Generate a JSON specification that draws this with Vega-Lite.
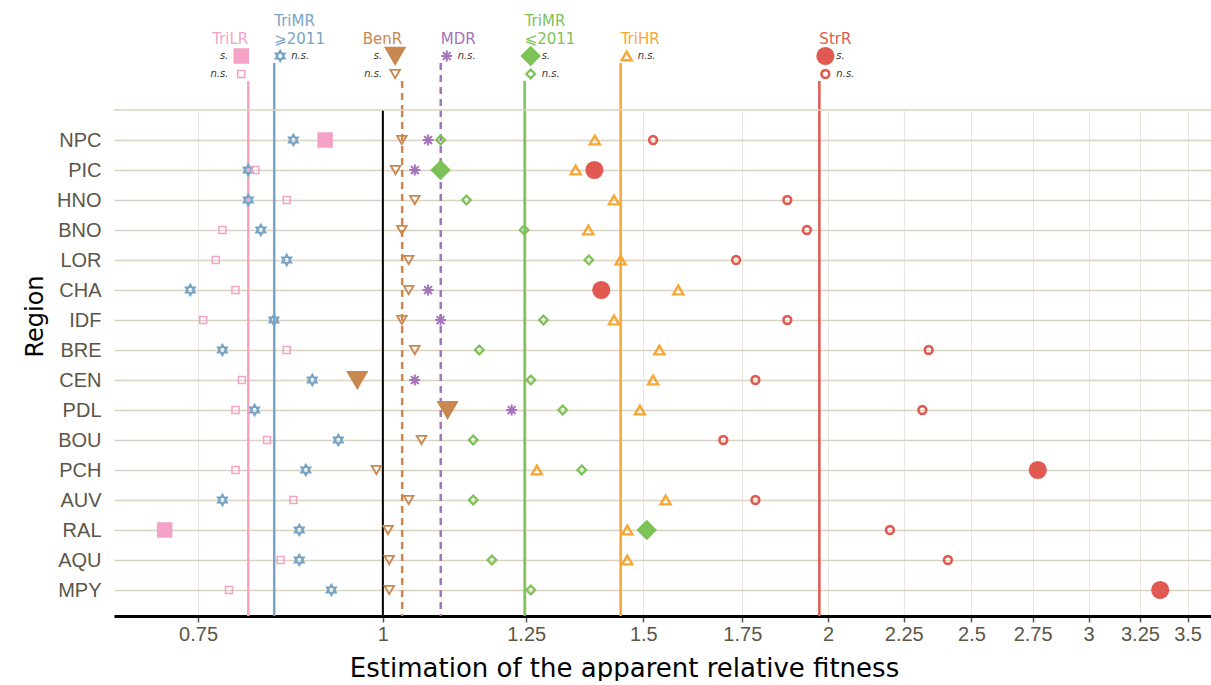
{
  "$schema": "https://vega.github.io/schema/vega-lite/v6.json",
  "width": 1097,
  "height": 506,
  "padding": {"left": 23, "top": 14, "right": 1, "bottom": 0},
  "background": "#ffffff",
  "config": {"view": {"stroke": null}, "font": "DejaVu Sans"},
  "datasets": {
    "lines": [
      {"series": "TriLR", "value": 0.811},
      {"series": "TriMR ⩾2011", "value": 0.8444},
      {"series": "BenR", "value": 1.0305},
      {"series": "MDR", "value": 1.0943},
      {"series": "TriMR ⩽2011", "value": 1.247},
      {"series": "TriHR", "value": 1.448},
      {"series": "StrR", "value": 1.973}
    ],
    "legend": [
      {"series": "TriLR", "value": 0.811, "sig": "s.", "level": "s"},
      {"series": "TriLR", "value": 0.811, "sig": "n.s.", "level": "ns"},
      {"series": "TriMR ⩾2011", "value": 0.8444, "sig": "n.s.", "level": "s"},
      {"series": "BenR", "value": 1.0305, "sig": "s.", "level": "s"},
      {"series": "BenR", "value": 1.0305, "sig": "n.s.", "level": "ns"},
      {"series": "MDR", "value": 1.0943, "sig": "n.s.", "level": "s"},
      {"series": "TriMR ⩽2011", "value": 1.247, "sig": "s.", "level": "s"},
      {"series": "TriMR ⩽2011", "value": 1.247, "sig": "n.s.", "level": "ns"},
      {"series": "TriHR", "value": 1.448, "sig": "n.s.", "level": "s"},
      {"series": "StrR", "value": 1.973, "sig": "s.", "level": "s"},
      {"series": "StrR", "value": 1.973, "sig": "n.s.", "level": "ns"}
    ],
    "points": [
      {"region": "NPC", "series": "TriMR ⩾2011", "value": 0.870, "sig": "n.s."},
      {"region": "NPC", "series": "TriLR", "value": 0.914, "sig": "s."},
      {"region": "NPC", "series": "BenR", "value": 1.030, "sig": "n.s."},
      {"region": "NPC", "series": "MDR", "value": 1.073, "sig": "n.s."},
      {"region": "NPC", "series": "TriMR ⩽2011", "value": 1.094, "sig": "n.s."},
      {"region": "NPC", "series": "TriHR", "value": 1.391, "sig": "n.s."},
      {"region": "NPC", "series": "StrR", "value": 1.523, "sig": "n.s."},
      {"region": "PIC", "series": "TriMR ⩾2011", "value": 0.811, "sig": "n.s."},
      {"region": "PIC", "series": "TriLR", "value": 0.820, "sig": "n.s."},
      {"region": "PIC", "series": "BenR", "value": 1.020, "sig": "n.s."},
      {"region": "PIC", "series": "MDR", "value": 1.051, "sig": "n.s."},
      {"region": "PIC", "series": "TriMR ⩽2011", "value": 1.094, "sig": "s."},
      {"region": "PIC", "series": "TriHR", "value": 1.350, "sig": "n.s."},
      {"region": "PIC", "series": "StrR", "value": 1.390, "sig": "s."},
      {"region": "HNO", "series": "TriMR ⩾2011", "value": 0.811, "sig": "n.s."},
      {"region": "HNO", "series": "TriLR", "value": 0.861, "sig": "n.s."},
      {"region": "HNO", "series": "BenR", "value": 1.051, "sig": "n.s."},
      {"region": "HNO", "series": "TriMR ⩽2011", "value": 1.139, "sig": "n.s."},
      {"region": "HNO", "series": "TriHR", "value": 1.433, "sig": "n.s."},
      {"region": "HNO", "series": "StrR", "value": 1.877, "sig": "n.s."},
      {"region": "BNO", "series": "TriLR", "value": 0.779, "sig": "n.s."},
      {"region": "BNO", "series": "TriMR ⩾2011", "value": 0.827, "sig": "n.s."},
      {"region": "BNO", "series": "BenR", "value": 1.030, "sig": "n.s."},
      {"region": "BNO", "series": "TriMR ⩽2011", "value": 1.246, "sig": "n.s."},
      {"region": "BNO", "series": "TriHR", "value": 1.377, "sig": "n.s."},
      {"region": "BNO", "series": "StrR", "value": 1.935, "sig": "n.s."},
      {"region": "LOR", "series": "TriLR", "value": 0.771, "sig": "n.s."},
      {"region": "LOR", "series": "TriMR ⩾2011", "value": 0.861, "sig": "n.s."},
      {"region": "LOR", "series": "BenR", "value": 1.041, "sig": "n.s."},
      {"region": "LOR", "series": "TriMR ⩽2011", "value": 1.378, "sig": "n.s."},
      {"region": "LOR", "series": "TriHR", "value": 1.448, "sig": "n.s."},
      {"region": "LOR", "series": "StrR", "value": 1.733, "sig": "n.s."},
      {"region": "CHA", "series": "TriMR ⩾2011", "value": 0.741, "sig": "n.s."},
      {"region": "CHA", "series": "TriLR", "value": 0.795, "sig": "n.s."},
      {"region": "CHA", "series": "BenR", "value": 1.041, "sig": "n.s."},
      {"region": "CHA", "series": "MDR", "value": 1.073, "sig": "n.s."},
      {"region": "CHA", "series": "StrR", "value": 1.405, "sig": "s."},
      {"region": "CHA", "series": "TriHR", "value": 1.584, "sig": "n.s."},
      {"region": "IDF", "series": "TriLR", "value": 0.756, "sig": "n.s."},
      {"region": "IDF", "series": "TriMR ⩾2011", "value": 0.844, "sig": "n.s."},
      {"region": "IDF", "series": "BenR", "value": 1.030, "sig": "n.s."},
      {"region": "IDF", "series": "MDR", "value": 1.094, "sig": "n.s."},
      {"region": "IDF", "series": "TriMR ⩽2011", "value": 1.284, "sig": "n.s."},
      {"region": "IDF", "series": "TriHR", "value": 1.433, "sig": "n.s."},
      {"region": "IDF", "series": "StrR", "value": 1.877, "sig": "n.s."},
      {"region": "BRE", "series": "TriMR ⩾2011", "value": 0.779, "sig": "n.s."},
      {"region": "BRE", "series": "TriLR", "value": 0.861, "sig": "n.s."},
      {"region": "BRE", "series": "BenR", "value": 1.051, "sig": "n.s."},
      {"region": "BRE", "series": "TriMR ⩽2011", "value": 1.162, "sig": "n.s."},
      {"region": "BRE", "series": "TriHR", "value": 1.538, "sig": "n.s."},
      {"region": "BRE", "series": "StrR", "value": 2.339, "sig": "n.s."},
      {"region": "CEN", "series": "TriLR", "value": 0.803, "sig": "n.s."},
      {"region": "CEN", "series": "TriMR ⩾2011", "value": 0.896, "sig": "n.s."},
      {"region": "CEN", "series": "BenR", "value": 0.961, "sig": "s."},
      {"region": "CEN", "series": "MDR", "value": 1.051, "sig": "n.s."},
      {"region": "CEN", "series": "TriMR ⩽2011", "value": 1.259, "sig": "n.s."},
      {"region": "CEN", "series": "TriHR", "value": 1.523, "sig": "n.s."},
      {"region": "CEN", "series": "StrR", "value": 1.786, "sig": "n.s."},
      {"region": "PDL", "series": "TriLR", "value": 0.795, "sig": "n.s."},
      {"region": "PDL", "series": "TriMR ⩾2011", "value": 0.819, "sig": "n.s."},
      {"region": "PDL", "series": "BenR", "value": 1.106, "sig": "s."},
      {"region": "PDL", "series": "MDR", "value": 1.222, "sig": "n.s."},
      {"region": "PDL", "series": "TriMR ⩽2011", "value": 1.323, "sig": "n.s."},
      {"region": "PDL", "series": "TriHR", "value": 1.492, "sig": "n.s."},
      {"region": "PDL", "series": "StrR", "value": 2.316, "sig": "n.s."},
      {"region": "BOU", "series": "TriLR", "value": 0.835, "sig": "n.s."},
      {"region": "BOU", "series": "TriMR ⩾2011", "value": 0.933, "sig": "n.s."},
      {"region": "BOU", "series": "BenR", "value": 1.062, "sig": "n.s."},
      {"region": "BOU", "series": "TriMR ⩽2011", "value": 1.151, "sig": "n.s."},
      {"region": "BOU", "series": "StrR", "value": 1.699, "sig": "n.s."},
      {"region": "PCH", "series": "TriLR", "value": 0.795, "sig": "n.s."},
      {"region": "PCH", "series": "TriMR ⩾2011", "value": 0.887, "sig": "n.s."},
      {"region": "PCH", "series": "BenR", "value": 0.990, "sig": "n.s."},
      {"region": "PCH", "series": "TriHR", "value": 1.271, "sig": "n.s."},
      {"region": "PCH", "series": "TriMR ⩽2011", "value": 1.363, "sig": "n.s."},
      {"region": "PCH", "series": "StrR", "value": 2.772, "sig": "s."},
      {"region": "AUV", "series": "TriMR ⩾2011", "value": 0.779, "sig": "n.s."},
      {"region": "AUV", "series": "TriLR", "value": 0.870, "sig": "n.s."},
      {"region": "AUV", "series": "BenR", "value": 1.041, "sig": "n.s."},
      {"region": "AUV", "series": "TriMR ⩽2011", "value": 1.151, "sig": "n.s."},
      {"region": "AUV", "series": "TriHR", "value": 1.553, "sig": "n.s."},
      {"region": "AUV", "series": "StrR", "value": 1.786, "sig": "n.s."},
      {"region": "RAL", "series": "TriLR", "value": 0.712, "sig": "s."},
      {"region": "RAL", "series": "TriMR ⩾2011", "value": 0.878, "sig": "n.s."},
      {"region": "RAL", "series": "BenR", "value": 1.008, "sig": "n.s."},
      {"region": "RAL", "series": "TriHR", "value": 1.463, "sig": "n.s."},
      {"region": "RAL", "series": "TriMR ⩽2011", "value": 1.508, "sig": "s."},
      {"region": "RAL", "series": "StrR", "value": 2.202, "sig": "n.s."},
      {"region": "AQU", "series": "TriLR", "value": 0.853, "sig": "n.s."},
      {"region": "AQU", "series": "TriMR ⩾2011", "value": 0.878, "sig": "n.s."},
      {"region": "AQU", "series": "BenR", "value": 1.010, "sig": "n.s."},
      {"region": "AQU", "series": "TriMR ⩽2011", "value": 1.185, "sig": "n.s."},
      {"region": "AQU", "series": "TriHR", "value": 1.463, "sig": "n.s."},
      {"region": "AQU", "series": "StrR", "value": 2.410, "sig": "n.s."},
      {"region": "MPY", "series": "TriLR", "value": 0.787, "sig": "n.s."},
      {"region": "MPY", "series": "TriMR ⩾2011", "value": 0.923, "sig": "n.s."},
      {"region": "MPY", "series": "BenR", "value": 1.010, "sig": "n.s."},
      {"region": "MPY", "series": "TriMR ⩽2011", "value": 1.259, "sig": "n.s."},
      {"region": "MPY", "series": "StrR", "value": 3.354, "sig": "s."}
    ]
  },
  "resolve": {"scale": {"y": "independent"}},
  "layer": [
    {
      "layer": [
        {
          "data": {"name": "points"},
          "mark": {"type": "point", "filled": false, "opacity": 0},
          "encoding": {
            "x": {
              "field": "value", "type": "quantitative",
              "scale": {"type": "log", "domain": [0.658, 3.63], "nice": false},
              "axis": {
                "title": "Estimation of the apparent relative fitness",
                "values": [0.75, 1, 1.25, 1.5, 1.75, 2, 2.25, 2.5, 2.75, 3, 3.25, 3.5],
                "format": "~g",
                "grid": true, "gridColor": "#ebe7dc", "gridWidth": 1,
                "domainColor": "#000000", "domainWidth": 3,
                "tickColor": "#555555", "tickSize": 6, "tickWidth": 1.5,
                "labelFont": "Liberation Sans", "labelFontSize": 20, "labelColor": "#5b5648", "labelPadding": 2,
                "labelFlush": false, "labelOverlap": false,
                "titleFont": "DejaVu Sans", "titleFontSize": 26, "titleFontWeight": "normal", "titleColor": "#000000", "titlePadding": 11, "titleX": 510
              }
            },
            "y": {
              "field": "region", "type": "nominal",
              "scale": {"type": "point", "domain": ["NPC", "PIC", "HNO", "BNO", "LOR", "CHA", "IDF", "BRE", "CEN", "PDL", "BOU", "PCH", "AUV", "RAL", "AQU", "MPY"], "padding": 0.9333, "align": 0.536},
              "axis": {
                "orient": "left",
                "title": "Region", "ticks": false, "domain": false, "labelPadding": 13,
                "labelFont": "Liberation Sans", "labelFontSize": 20, "labelColor": "#5b5648",
                "grid": true, "gridColor": "#d8d2c2", "gridWidth": 1.5,
                "titleFont": "DejaVu Sans", "titleFontSize": 24, "titleFontWeight": "normal", "titleColor": "#000000", "titlePadding": 9, "titleY": 206
              }
            }
          }
        },
        {
          "data": {"name": "lines"},
          "mark": {"type": "rule", "strokeWidth": 2.5},
          "encoding": {
            "x": {"field": "value", "type": "quantitative"},
            "color": {"field": "series", "type": "nominal", "legend": null, "scale": {"domain": ["TriLR", "TriMR ⩾2011", "BenR", "MDR", "TriMR ⩽2011", "TriHR", "StrR"], "range": ["#f4a3c6", "#78a5c5", "#c9884f", "#a574b9", "#7cc257", "#f7a733", "#e15a52"]}},
            "strokeDash": {"field": "series", "type": "nominal", "legend": null, "scale": {"domain": ["TriLR", "TriMR ⩾2011", "BenR", "MDR", "TriMR ⩽2011", "TriHR", "StrR"], "range": [[1, 0], [1, 0], [7, 5], [7, 5], [1, 0], [1, 0], [1, 0]]}}
          }
        },
        {
          "data": {"name": "lines"},
          "transform": [{"filter": "datum.series === 'TriLR'"}],
          "mark": {"type": "rule", "color": "#000000", "strokeWidth": 2},
          "encoding": {
            "x": {"datum": 1, "type": "quantitative"}
          }
        },
        {
          "data": {"name": "points"},
          "mark": {"type": "point", "filled": false, "opacity": 1},
          "encoding": {
            "x": {"field": "value", "type": "quantitative"},
            "y": {"field": "region", "type": "nominal"},
            "color": {"field": "series", "type": "nominal", "legend": null},
            "fill": {"condition": {"test": "datum.sig === 's.'", "field": "series", "type": "nominal", "legend": null, "scale": {"domain": ["TriLR", "TriMR ⩾2011", "BenR", "MDR", "TriMR ⩽2011", "TriHR", "StrR"], "range": ["#f4a3c6", "#78a5c5", "#c9884f", "#a574b9", "#7cc257", "#f7a733", "#e15a52"]}}, "value": "transparent"},
            "shape": {"field": "series", "type": "nominal", "legend": null, "scale": {"domain": ["TriLR", "TriMR ⩾2011", "BenR", "MDR", "TriMR ⩽2011", "TriHR", "StrR"], "range": [
              "M-0.7,-0.7L0.7,-0.7L0.7,0.7L-0.7,0.7Z",
              "M0,-1.1L0.953,0.55L-0.953,0.55ZM0,1.1L-0.953,-0.55L0.953,-0.55Z",
              "M-0.95,-0.82L0.95,-0.82L0,0.82Z",
              "M-1.1,0L1.1,0M0,-1.1L0,1.1M-0.78,-0.78L0.78,0.78M-0.78,0.78L0.78,-0.78",
              "M-0.87,0L0,-0.87L0.87,0L0,0.87Z",
              "M0,-0.866L1,0.866L-1,0.866Z",
              "M-0.78,0A0.78,0.78,0,1,0,0.78,0A0.78,0.78,0,1,0,-0.78,0Z"
            ]}},
            "size": {"field": "sig", "type": "nominal", "legend": null, "scale": {"domain": ["s.", "n.s."], "range": [400, 100]}},
            "strokeWidth": {"field": "series", "type": "nominal", "legend": null, "scale": {"domain": ["TriLR", "TriMR ⩾2011", "BenR", "MDR", "TriMR ⩽2011", "TriHR", "StrR"], "range": [1.5, 2.6, 1.5, 1.6, 1.5, 1.8, 1.5]}}
          }
        }
      ]
    },
    {
      "layer": [
        {
          "data": {"name": "legend"},
          "transform": [{"filter": "datum.sig === 'n.s.'"}],
          "mark": {"type": "rule", "strokeWidth": 2.5, "yOffset": 7},
          "encoding": {
            "x": {"field": "value", "type": "quantitative"},
            "y": {"field": "level", "type": "nominal", "axis": null, "scale": {"type": "point", "domain": ["title", "s", "ns", "a", "bottom"], "range": [-72, 0], "padding": 0}},
            "y2": {"datum": "bottom"},
            "color": {"field": "series", "type": "nominal", "legend": null},
            "strokeDash": {"field": "series", "type": "nominal", "legend": null}
          }
        },
        {
          "data": {"name": "legend"},
          "transform": [{"filter": {"field": "series", "oneOf": ["TriLR", "BenR"]}}],
          "mark": {"type": "point", "filled": false, "opacity": 1, "xOffset": -7},
          "encoding": {
            "x": {"field": "value", "type": "quantitative"},
            "y": {"field": "level", "type": "nominal", "axis": null},
            "color": {"field": "series", "type": "nominal", "legend": null},
            "fill": {"condition": {"test": "datum.sig === 's.'", "field": "series", "type": "nominal", "legend": null}, "value": "transparent"},
            "shape": {"field": "series", "type": "nominal", "legend": null},
            "size": {"field": "sig", "type": "nominal", "legend": null},
            "strokeWidth": {"field": "series", "type": "nominal", "legend": null}
          }
        },
        {
          "data": {"name": "legend"},
          "transform": [{"filter": {"not": {"field": "series", "oneOf": ["TriLR", "BenR"]}}}],
          "mark": {"type": "point", "filled": false, "opacity": 1, "xOffset": 6},
          "encoding": {
            "x": {"field": "value", "type": "quantitative"},
            "y": {"field": "level", "type": "nominal", "axis": null},
            "color": {"field": "series", "type": "nominal", "legend": null},
            "fill": {"condition": {"test": "datum.sig === 's.'", "field": "series", "type": "nominal", "legend": null}, "value": "transparent"},
            "shape": {"field": "series", "type": "nominal", "legend": null},
            "size": {"field": "sig", "type": "nominal", "legend": null},
            "strokeWidth": {"field": "series", "type": "nominal", "legend": null}
          }
        },
        {
          "data": {"name": "legend"},
          "transform": [{"filter": {"field": "series", "oneOf": ["TriLR", "BenR"]}}],
          "mark": {"type": "text", "align": "right", "baseline": "middle", "dx": -20, "fontSize": 10, "fontStyle": "italic", "color": "#333333"},
          "encoding": {
            "x": {"field": "value", "type": "quantitative"},
            "y": {"field": "level", "type": "nominal", "axis": null},
            "text": {"field": "sig"}
          }
        },
        {
          "data": {"name": "legend"},
          "transform": [{"filter": {"not": {"field": "series", "oneOf": ["TriLR", "BenR"]}}}],
          "mark": {"type": "text", "align": "left", "baseline": "middle", "dx": 17, "fontSize": 10, "fontStyle": "italic", "color": "#333333"},
          "encoding": {
            "x": {"field": "value", "type": "quantitative"},
            "y": {"field": "level", "type": "nominal", "axis": null},
            "text": {"field": "sig"}
          }
        },
        {
          "data": {"name": "lines"},
          "transform": [{"filter": {"field": "series", "oneOf": ["TriLR", "BenR"]}}],
          "mark": {"type": "text", "align": "right", "baseline": "bottom", "dy": 9, "fontSize": 15},
          "encoding": {
            "x": {"field": "value", "type": "quantitative"},
            "y": {"datum": "title"},
            "text": {"field": "series"},
            "color": {"field": "series", "type": "nominal", "legend": null}
          }
        },
        {
          "data": {"name": "lines"},
          "transform": [{"filter": {"field": "series", "oneOf": ["MDR", "TriHR", "StrR"]}}],
          "mark": {"type": "text", "align": "left", "baseline": "bottom", "dy": 9, "fontSize": 15},
          "encoding": {
            "x": {"field": "value", "type": "quantitative"},
            "y": {"datum": "title"},
            "text": {"field": "series"},
            "color": {"field": "series", "type": "nominal", "legend": null}
          }
        },
        {
          "data": {"name": "lines"},
          "transform": [{"filter": {"field": "series", "oneOf": ["TriMR ⩾2011", "TriMR ⩽2011"]}}],
          "mark": {"type": "text", "align": "left", "baseline": "bottom", "dy": -9, "fontSize": 15, "lineBreak": " ", "lineHeight": 18},
          "encoding": {
            "x": {"field": "value", "type": "quantitative"},
            "y": {"datum": "title"},
            "text": {"field": "series"},
            "color": {"field": "series", "type": "nominal", "legend": null}
          }
        },
        {
          "data": {"name": "lines"},
          "transform": [{"filter": "datum.series === 'TriLR'"}],
          "mark": {"type": "rule", "color": "#d8d2c2", "strokeWidth": 1.5},
          "encoding": {
            "y": {"datum": "bottom"}
          }
        }
      ]
    }
  ]
}
